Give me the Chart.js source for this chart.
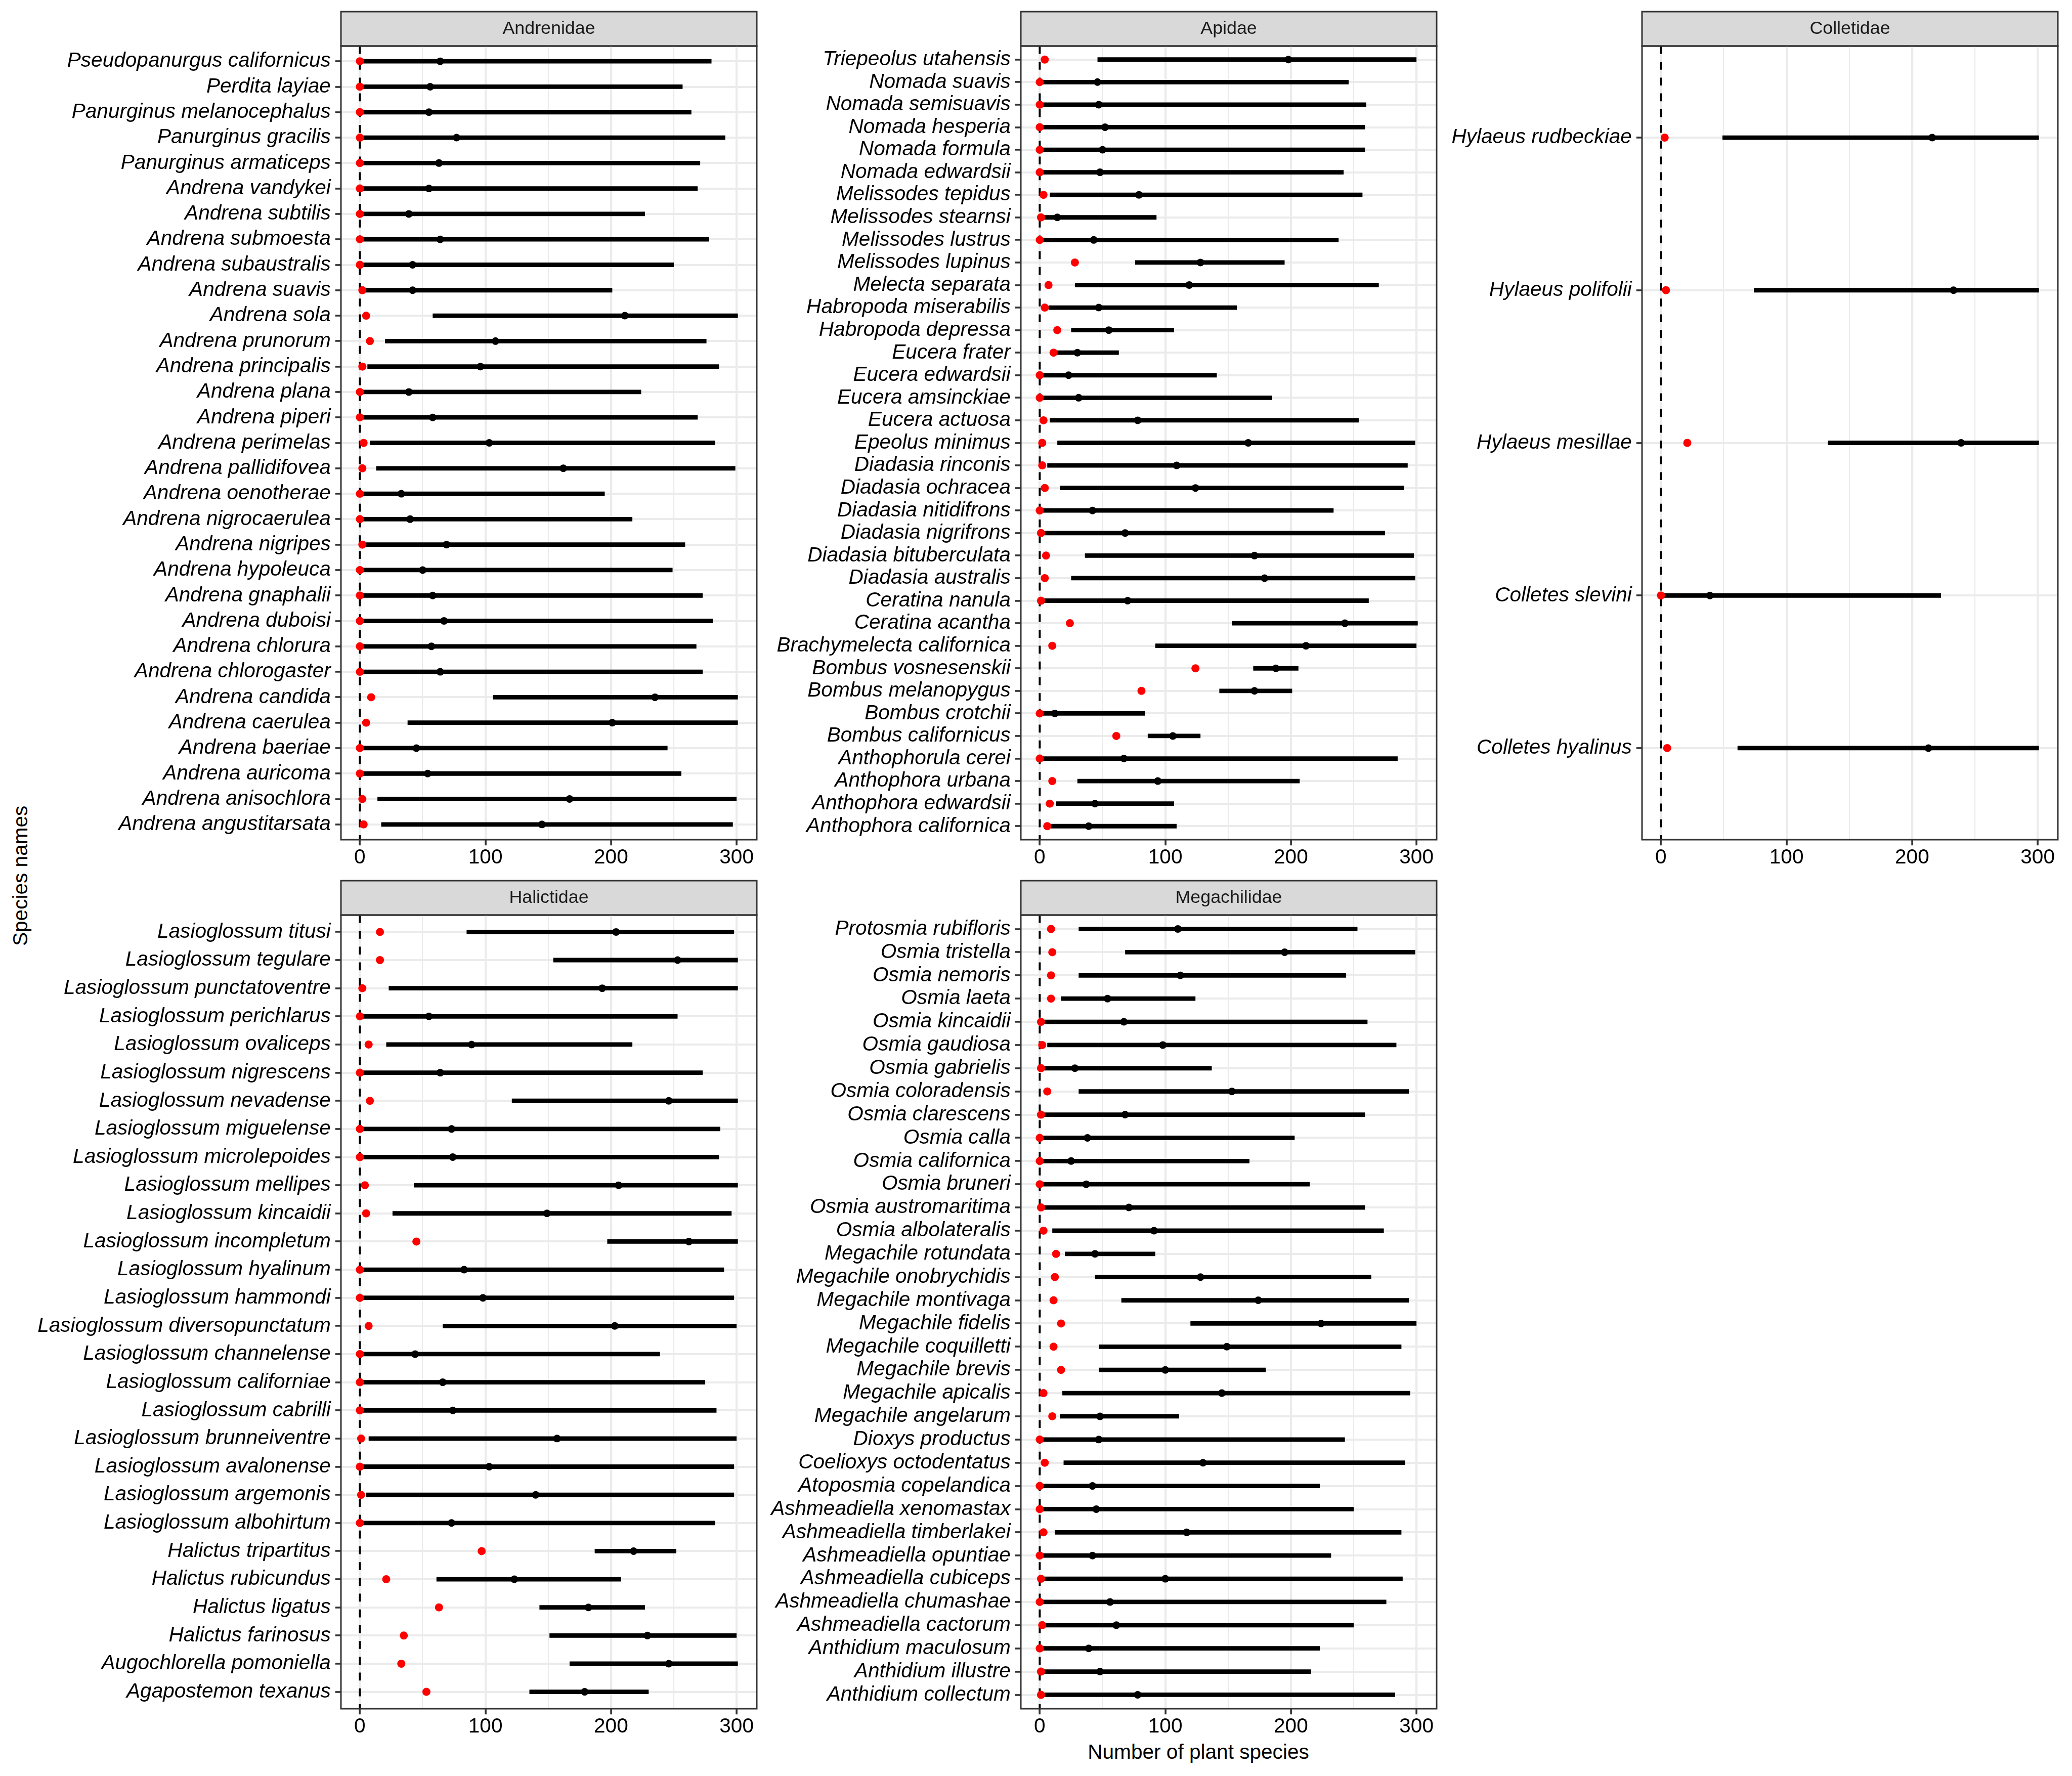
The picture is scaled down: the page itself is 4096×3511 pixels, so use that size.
<!DOCTYPE html>
<html>
<head>
<meta charset="utf-8">
<script src="https://cdn.jsdelivr.net/npm/chart.js"></script>
<style>
html,body{margin:0;padding:0;background:#ffffff;}
body{width:4096px;height:3511px;position:relative;overflow:hidden;font-family:'Liberation Sans',Arial,Helvetica,sans-serif;}
canvas{position:absolute;}
.axt{position:absolute;font-family:'Liberation Sans',Arial,sans-serif;font-size:40.6px;line-height:40.6px;height:40.6px;text-align:center;color:#000;white-space:nowrap;}
</style>
</head>
<body>
<div class="axt" style="left:1869px;top:3443px;width:1000px;">Number of plant species</div>
<div class="axt" style="left:-260px;top:1711px;width:600px;transform:rotate(-90deg);">Species names</div>
<script>
// ---------------- DATA ----------------
const families = ['Andrenidae', 'Apidae', 'Colletidae', 'Halictidae', 'Megachilidae'];
const xGridValues = [0, 50, 100, 150, 200, 250, 300];
const xMajorTicks = [0, 100, 200, 300];
const xTickLabels = ['0', '100', '200', '300'];

// Andrenidae
const andrenidaeSpecies = ['Pseudopanurgus californicus','Perdita layiae','Panurginus melanocephalus','Panurginus gracilis','Panurginus armaticeps','Andrena vandykei','Andrena subtilis','Andrena submoesta','Andrena subaustralis','Andrena suavis','Andrena sola','Andrena prunorum','Andrena principalis','Andrena plana','Andrena piperi','Andrena perimelas','Andrena pallidifovea','Andrena oenotherae','Andrena nigrocaerulea','Andrena nigripes','Andrena hypoleuca','Andrena gnaphalii','Andrena duboisi','Andrena chlorura','Andrena chlorogaster','Andrena candida','Andrena caerulea','Andrena baeriae','Andrena auricoma','Andrena anisochlora','Andrena angustitarsata'];
const andrenidaeObserved = [0,0,0,0,0,0,0,0,0,2,5,8,2,0,0,3,2,0,0,2,0,0,0,0,0,9,5,0,0,2,3];
const andrenidaeLow      = [0,0,0,0,0,0,0,0,0,0,58,20,6,0,0,8,13,0,0,0,0,0,0,0,0,106,38,0,0,14,17];
const andrenidaeMedian   = [64,56,55,77,63,55,39,64,42,42,211,108,96,39,58,103,162,33,40,69,50,58,67,57,64,235,201,45,54,167,145];
const andrenidaeHigh     = [280,257,264,291,271,269,227,278,250,201,301,276,286,224,269,283,299,195,217,259,249,273,281,268,273,301,301,245,256,300,297];

// Apidae
const apidaeSpecies = ['Triepeolus utahensis','Nomada suavis','Nomada semisuavis','Nomada hesperia','Nomada formula','Nomada edwardsii','Melissodes tepidus','Melissodes stearnsi','Melissodes lustrus','Melissodes lupinus','Melecta separata','Habropoda miserabilis','Habropoda depressa','Eucera frater','Eucera edwardsii','Eucera amsinckiae','Eucera actuosa','Epeolus minimus','Diadasia rinconis','Diadasia ochracea','Diadasia nitidifrons','Diadasia nigrifrons','Diadasia bituberculata','Diadasia australis','Ceratina nanula','Ceratina acantha','Brachymelecta californica','Bombus vosnesenskii','Bombus melanopygus','Bombus crotchii','Bombus californicus','Anthophorula cerei','Anthophora urbana','Anthophora edwardsii','Anthophora californica'];
const apidaeObserved = [4,0,0,0,0,0,3,1,0,28,7,4,14,11,0,0,3,2,2,4,0,1,5,4,1,24,10,124,81,0,61,0,10,8,6];
const apidaeLow      = [46,0,0,0,0,0,8,0,0,76,28,7,25,14,0,0,8,14,6,16,0,0,36,25,0,153,92,170,143,0,86,0,30,13,9];
const apidaeMedian   = [198,46,47,52,50,48,79,14,43,128,119,47,55,30,23,31,78,166,109,124,42,68,171,179,70,243,212,188,171,12,106,67,94,44,39];
const apidaeHigh     = [300,246,260,259,259,242,257,93,238,195,270,157,107,63,141,185,254,299,293,290,234,275,298,299,262,301,300,206,201,84,128,285,207,107,109];

// Colletidae
const colletidaeSpecies = ['Hylaeus rudbeckiae','Hylaeus polifolii','Hylaeus mesillae','Colletes slevini','Colletes hyalinus'];
const colletidaeObserved = [3,4,21,0,5];
const colletidaeLow      = [49,74,133,0,61];
const colletidaeMedian   = [216,233,239,39,213];
const colletidaeHigh     = [301,301,301,223,301];

// Halictidae
const halictidaeSpecies = ['Lasioglossum titusi','Lasioglossum tegulare','Lasioglossum punctatoventre','Lasioglossum perichlarus','Lasioglossum ovaliceps','Lasioglossum nigrescens','Lasioglossum nevadense','Lasioglossum miguelense','Lasioglossum microlepoides','Lasioglossum mellipes','Lasioglossum kincaidii','Lasioglossum incompletum','Lasioglossum hyalinum','Lasioglossum hammondi','Lasioglossum diversopunctatum','Lasioglossum channelense','Lasioglossum californiae','Lasioglossum cabrilli','Lasioglossum brunneiventre','Lasioglossum avalonense','Lasioglossum argemonis','Lasioglossum albohirtum','Halictus tripartitus','Halictus rubicundus','Halictus ligatus','Halictus farinosus','Augochlorella pomoniella','Agapostemon texanus'];
const halictidaeObserved = [16,16,2,0,7,0,8,0,0,4,5,45,0,0,7,0,0,0,1,0,1,0,97,21,63,35,33,53];
const halictidaeLow      = [85,154,23,0,21,0,121,0,0,43,26,197,0,0,66,0,0,0,7,0,5,0,187,61,143,151,167,135];
const halictidaeMedian   = [204,253,193,55,89,64,246,73,74,206,149,262,83,98,203,44,66,74,157,103,140,73,218,123,182,229,246,179];
const halictidaeHigh     = [298,301,301,253,217,273,301,287,286,301,296,301,290,298,300,239,275,284,300,298,298,283,252,208,227,300,301,230];

// Megachilidae
const megachilidaeSpecies = ['Protosmia rubifloris','Osmia tristella','Osmia nemoris','Osmia laeta','Osmia kincaidii','Osmia gaudiosa','Osmia gabrielis','Osmia coloradensis','Osmia clarescens','Osmia calla','Osmia californica','Osmia bruneri','Osmia austromaritima','Osmia albolateralis','Megachile rotundata','Megachile onobrychidis','Megachile montivaga','Megachile fidelis','Megachile coquilletti','Megachile brevis','Megachile apicalis','Megachile angelarum','Dioxys productus','Coelioxys octodentatus','Atoposmia copelandica','Ashmeadiella xenomastax','Ashmeadiella timberlakei','Ashmeadiella opuntiae','Ashmeadiella cubiceps','Ashmeadiella chumashae','Ashmeadiella cactorum','Anthidium maculosum','Anthidium illustre','Anthidium collectum'];
const megachilidaeObserved = [9,10,9,9,1,2,1,6,1,0,0,0,1,3,13,12,11,17,11,17,3,10,0,4,0,0,3,0,1,0,2,0,1,1];
const megachilidaeLow      = [31,68,31,17,0,6,0,31,0,0,0,0,0,10,20,44,65,120,47,47,18,16,0,19,0,0,12,0,0,0,0,0,0,0];
const megachilidaeMedian   = [110,195,112,54,67,98,28,153,68,38,25,37,71,91,44,128,174,224,149,100,145,48,47,130,42,45,117,42,100,56,61,39,48,78];
const megachilidaeHigh     = [253,299,244,124,261,284,137,294,259,203,167,215,259,274,92,264,294,300,288,180,295,111,243,291,223,250,288,232,289,276,250,223,216,283];

// ---------------- LAYOUT (pixels) ----------------
const colLeft = [674, 2018, 3246];
const yAxisWidth = [650, 510, 400];
const rowTop = [23, 1741];
const stripH = 68, panelW = 827, panelH = 1569, xAxisH = 62, padTop = 3, padRight = 3;
const X_MIN = -15.05, X_MAX = 316.05;

const panels = [
  {family: families[0], names: andrenidaeSpecies, obs: andrenidaeObserved, lo: andrenidaeLow, med: andrenidaeMedian, hi: andrenidaeHigh, col: 0, row: 0},
  {family: families[1], names: apidaeSpecies, obs: apidaeObserved, lo: apidaeLow, med: apidaeMedian, hi: apidaeHigh, col: 1, row: 0},
  {family: families[2], names: colletidaeSpecies, obs: colletidaeObserved, lo: colletidaeLow, med: colletidaeMedian, hi: colletidaeHigh, col: 2, row: 0},
  {family: families[3], names: halictidaeSpecies, obs: halictidaeObserved, lo: halictidaeLow, med: halictidaeMedian, hi: halictidaeHigh, col: 0, row: 1},
  {family: families[4], names: megachilidaeSpecies, obs: megachilidaeObserved, lo: megachilidaeLow, med: megachilidaeMedian, hi: megachilidaeHigh, col: 1, row: 1}
];

Chart.defaults.font.family = "'Liberation Sans', Arial, sans-serif";

const panelFrame = {
  id: 'panelFrame',
  beforeDraw(chart) {
    const ctx = chart.ctx, a = chart.chartArea, s = chart.scales.strip;
    ctx.save();
    ctx.fillStyle = '#D9D9D9';
    ctx.fillRect(a.left, s.top, a.right - a.left, s.bottom - s.top);
    ctx.strokeStyle = '#333333';
    ctx.lineWidth = 3;
    ctx.strokeRect(a.left, s.top, a.right - a.left, s.bottom - s.top);
    ctx.restore();
  },
  afterDatasetsDraw(chart) {
    const ctx = chart.ctx, a = chart.chartArea;
    ctx.save();
    ctx.strokeStyle = '#333333';
    ctx.lineWidth = 3;
    ctx.strokeRect(a.left, a.top, a.right - a.left, a.bottom - a.top);
    ctx.restore();
  }
};

function rangeSegments(lo, hi) {
  const out = [];
  lo.forEach((v, i) => {
    out.push({x: v, y: i + 1}, {x: hi[i], y: i + 1}, {x: null, y: null});
  });
  return out;
}

panels.forEach(p => {
  const n = p.names.length;
  const wy = yAxisWidth[p.col];
  const cv = document.createElement('canvas');
  const w = wy + panelW + padRight;
  const h = padTop + stripH + panelH + xAxisH;
  cv.width = w; cv.height = h;
  cv.style.width = w + 'px'; cv.style.height = h + 'px';
  cv.style.left = (colLeft[p.col] - wy) + 'px';
  cv.style.top = (rowTop[p.row] - padTop) + 'px';
  document.body.appendChild(cv);

  new Chart(cv.getContext('2d'), {
    type: 'line',
    data: {
      datasets: [
        {label: 'Observed', data: p.obs.map((v, i) => ({x: v, y: i + 1})), showLine: false,
         pointRadius: 8.0, pointBackgroundColor: '#FF0000', pointBorderWidth: 0, order: 1},
        {label: 'Median', data: p.med.map((v, i) => ({x: v, y: i + 1})), showLine: false,
         pointRadius: 7.5, pointBackgroundColor: '#000000', pointBorderWidth: 0, order: 2},
        {label: 'Range', data: rangeSegments(p.lo, p.hi), borderColor: '#000000', borderWidth: 8.8,
         pointRadius: 0, spanGaps: false, borderCapStyle: 'butt', order: 3},
        {label: 'Zero', data: [{x: 0, y: 0.4}, {x: 0, y: n + 0.6}], borderColor: '#000000', borderWidth: 3.9,
         borderDash: [15.6, 15.6], pointRadius: 0, order: 4}
      ]
    },
    options: {
      responsive: false, animation: false, devicePixelRatio: 1, events: [],
      layout: {padding: {top: padTop, right: padRight, left: 0, bottom: 0}},
      plugins: {legend: {display: false}, tooltip: {enabled: false}, title: {display: false}},
      scales: {
        x: {
          type: 'linear', axis: 'x', position: 'bottom', min: X_MIN, max: X_MAX,
          afterBuildTicks: s => { s.ticks = xGridValues.map(v => ({value: v})); },
          afterFit: s => { s.height = xAxisH; },
          grid: {
            color: '#EBEBEB',
            lineWidth: c => (c.tick && xMajorTicks.includes(c.tick.value)) ? 4.2 : 2.1,
            drawTicks: true, tickLength: 11.2,
            tickColor: c => (c.tick && xMajorTicks.includes(c.tick.value)) ? '#333333' : 'rgba(0,0,0,0)',
            tickWidth: 3.6
          },
          border: {display: false},
          ticks: {
            autoSkip: false, maxRotation: 0, minRotation: 0, padding: 0.5, color: '#000000',
            font: {size: 40.6, lineHeight: 1.2},
            callback: v => { const k = xMajorTicks.indexOf(v); return k >= 0 ? xTickLabels[k] : ''; }
          }
        },
        y: {
          type: 'linear', axis: 'y', position: 'left', reverse: true, min: 0.4, max: n + 0.6,
          afterBuildTicks: s => { s.ticks = p.names.map((_, i) => ({value: i + 1})); },
          afterFit: s => { s.width = wy; },
          grid: {color: '#EBEBEB', lineWidth: 3.9, drawTicks: true, tickLength: 11.2, tickColor: '#333333', tickWidth: 3.6},
          border: {display: false},
          ticks: {
            autoSkip: false, padding: 9, color: '#000000',
            font: {size: 40.6, style: 'italic', lineHeight: 1.2},
            callback: v => p.names[Math.round(v) - 1]
          }
        },
        strip: {
          type: 'linear', axis: 'x', position: 'top', min: 0, max: 1, display: true,
          afterBuildTicks: s => { s.ticks = []; },
          afterFit: s => { s.height = stripH; },
          grid: {display: false, drawTicks: false},
          border: {display: false},
          ticks: {display: false},
          title: {display: true, text: p.family, color: '#1A1A1A',
                  font: {size: 35.8, lineHeight: 1.2}, padding: {top: 12.5, bottom: 12.5}}
        }
      }
    },
    plugins: [panelFrame]
  });
});
</script>
</body>
</html>
